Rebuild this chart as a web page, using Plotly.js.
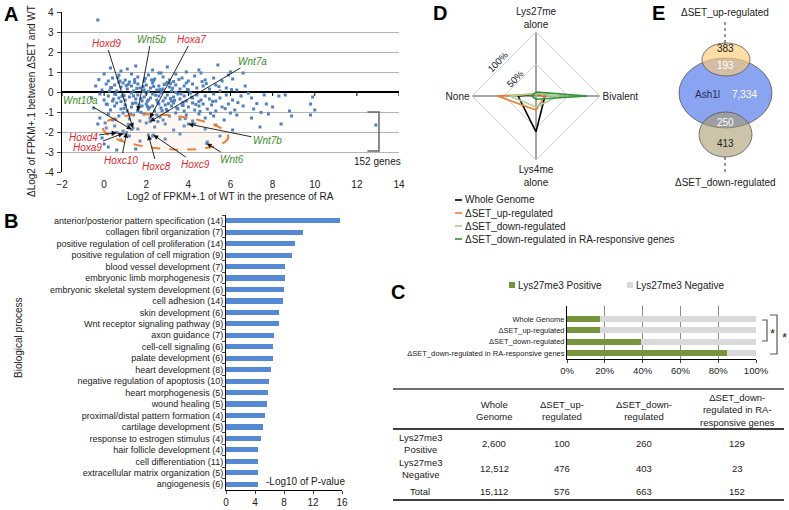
<!DOCTYPE html>
<html>
<head>
<meta charset="utf-8">
<script src="https://cdn.plot.ly/plotly-3.0.1.min.js"></script>
<style>html,body{margin:0;padding:0;background:#fff}#fig{width:789px;height:510px}</style>
</head>
<body>
<div id="fig"></div>
<script>
// ---- A: expression change scatter (one line per band of the cloud)
var scatX = [].concat(
  [0.3,0.8,1.5,2.3,3.0,3.9,5.4,6.0,2.7,1.1,4.5,6.6],
  [0.0,0.4,0.7,1.0,1.3,1.6,1.9,2.1,2.4,2.8,3.1,3.4,3.7,4.0,4.3,4.8,5.2,5.6,6.1,0.2,1.2,2.6,3.3,4.6,5.9],
  [-0.4,-0.1,0.1,0.3,0.5,0.6,0.8,0.9,1.1,1.3,1.4,1.6,1.7,1.9,2.0,2.2,2.3,2.5,2.6,2.8,2.9,3.1,3.2,3.4,3.6,3.8,4.0,4.2,4.4,4.7,5.0,5.3,5.8,6.3,6.7,0.7,2.1,3.0,3.9,5.5],
  [-0.6,-0.2,0.0,0.2,0.4,0.5,0.7,0.9,1.0,1.2,1.3,1.5,1.6,1.8,1.9,2.0,2.2,2.3,2.5,2.6,2.7,2.9,3.0,3.2,3.3,3.5,3.6,3.8,3.9,4.1,4.2,4.4,4.6,4.8,5.0,5.2,5.5,5.8,6.1,6.5,7.0,7.6,8.3,8.6,9.9,0.8,1.4,2.1,2.8,3.4,4.5,5.3],
  [-0.5,0.1,0.3,0.5,0.6,0.8,1.0,1.1,1.3,1.5,1.6,1.8,2.0,2.1,2.3,2.4,2.6,2.7,2.9,3.0,3.2,3.3,3.5,3.7,3.8,4.0,4.2,4.3,4.5,4.7,4.9,5.1,5.3,5.6,5.9,6.2,6.6,7.1,7.7,8.0,8.8,9.8,10.0],
  [-0.2,0.2,0.4,0.7,0.9,1.2,1.4,1.7,1.9,2.2,2.5,2.8,3.1,3.4,3.6,3.9,4.2,4.5,4.8,5.2,5.7,6.3,7.0,7.8,8.9,9.8,6.0],
  [-0.3,0.1,0.5,0.9,1.3,1.6,2.0,2.4,2.9,3.3,3.8,4.3,4.8,5.3,6.1,7.4,8.4,12.9],
  [-0.1,0.4,0.8,1.2,1.7,2.3,2.9,3.6,4.9,5.5,0.0],
  [0.2,1.5,0.6,-0.3],
  [1.45,2.05,2.65,3.15,1.75,2.35,0.95,3.75],
  [0.15,0.35,0.55,0.75,0.95,1.15,1.35,1.55,1.75,1.95,2.15,2.35,2.55,2.75,2.95,3.15,3.35,3.55,3.75,3.95],
  [0.25,0.45,0.65,0.85,1.05,1.25,1.45,1.65,1.85,2.05,2.25,2.45,2.65,2.85,3.05,3.25,3.45,3.65,4.15,4.65],
  [4.35,4.85,5.15,5.45,5.75,6.05,6.35,6.85,7.25,7.45,0.05,-0.25,0.55,1.15,2.55,3.85,4.55,5.05,1.85,2.75]
);
var scatY = [].concat(
  [1.2,1.05,1.3,1.1,1.25,1.0,1.35,1.0,0.95,1.15,1.1,0.95],
  [0.9,0.7,0.85,0.6,0.9,0.75,0.55,0.85,0.65,0.75,0.6,0.9,0.7,0.55,0.8,0.6,0.7,0.55,0.65,0.55,0.5,0.95,0.52,0.95,0.85],
  [0.3,0.1,0.4,0.2,0.35,0.05,0.25,0.45,0.15,0.3,0.05,0.4,0.2,0.1,0.35,0.2,0.45,0.1,0.3,0.15,0.4,0.25,0.05,0.35,0.15,0.3,0.1,0.4,0.2,0.3,0.15,0.35,0.2,0.1,0.3,0.48,0.02,0.48,0.45,0.05],
  [-0.3,-0.1,-0.4,-0.2,-0.45,-0.1,-0.3,-0.15,-0.4,-0.25,-0.05,-0.35,-0.15,-0.45,-0.25,-0.05,-0.3,-0.1,-0.4,-0.2,-0.05,-0.3,-0.15,-0.45,-0.25,-0.1,-0.35,-0.2,-0.45,-0.05,-0.3,-0.15,-0.4,-0.2,-0.35,-0.1,-0.3,-0.15,-0.4,-0.2,-0.3,-0.15,-0.2,-0.15,-0.25,-0.48,-0.2,-0.4,-0.45,-0.02,-0.48,-0.45],
  [-0.8,-0.6,-0.9,-0.7,-0.55,-0.85,-0.65,-0.95,-0.75,-0.55,-0.9,-0.7,-0.6,-0.85,-0.7,-0.95,-0.6,-0.8,-0.65,-0.95,-0.7,-0.55,-0.85,-0.65,-0.95,-0.75,-0.55,-0.9,-0.7,-0.6,-0.85,-0.65,-0.95,-0.75,-0.6,-0.9,-0.7,-0.85,-0.6,-0.75,-0.95,-0.6,-0.9],
  [-1.3,-1.1,-1.4,-1.2,-1.05,-1.35,-1.15,-1.45,-1.1,-1.3,-1.15,-1.4,-1.2,-1.05,-1.35,-1.15,-1.45,-1.1,-1.3,-1.2,-1.4,-1.15,-1.3,-1.1,-1.2,-1.15,-1.05],
  [-1.6,-1.8,-1.7,-1.95,-1.65,-1.85,-1.55,-1.75,-1.6,-1.9,-1.7,-1.6,-1.85,-1.65,-1.9,-1.75,-1.6,-1.65],
  [-2.3,-2.1,-2.4,-2.2,-2.45,-2.2,-2.35,-2.1,-2.5,-2.2,-2.6],
  [-2.75,-2.85,-2.9,3.6],
  [0.62,-0.72,0.12,-0.33,-1.02,0.58,-0.18,-0.52],
  [-0.62,0.22,-0.12,0.55,-0.82,0.38,-0.57,0.18,-0.33,0.68,-0.77,0.28,-0.52,0.08,-0.87,0.43,-0.42,0.63,-0.68,0.13],
  [0.05,-0.35,0.72,-0.22,0.32,-1.12,0.48,-0.64,0.02,-0.46,0.6,-0.16,-1.25,0.37,-0.58,0.19,-0.79,-0.09,-0.26,0.52],
  [-0.62,0.42,-0.47,0.27,-0.83,0.12,-0.53,-0.06,-0.58,-1.02,-1.55,0.62,-1.38,-1.62,-1.48,-1.33,-0.97,-1.06,0.27,-0.93]
);
var yTicksA = [-4, -3, -2, -1, 0, 1, 2, 3, 4];
var geneNames = ["Hoxd9", "Wnt5b", "Hoxa7", "Wnt7a", "Wnt10a", "Hoxd4", "Hoxa9", "Hoxc10", "Hoxc8", "Hoxc9", "Wnt7b", "Wnt6"];
var geneX = [1.37, 1.6, 2.18, 2.18, 1.31, 0.6, 0.91, 1.07, 2.1, 2.34, 4.0, 4.87];
var geneY = [-1.8, -0.95, -1.3, -1.48, -1.87, -2.03, -2.07, -2.03, -2.15, -2.15, -1.6, -2.57];
var bracketCount = 152;

// ---- B: GO terms
var goTerms = [
  "anterior/posterior pattern specification (14)", "collagen fibril organization (7)",
  "positive regulation of cell proliferation (14)", "positive regulation of cell migration (9)",
  "blood vessel development (7)", "embryonic limb morphogenesis (7)",
  "embryonic skeletal system development (6)", "cell adhesion (14)", "skin development (6)",
  "Wnt receptor signaling pathway (9)", "axon guidance (7)", "cell-cell signaling (6)",
  "palate development (6)", "heart development (8)", "negative regulation of apoptosis (10)",
  "heart morphogenesis (5)", "wound healing (5)", "proximal/distal pattern formation (4)",
  "cartilage development (5)", "response to estrogen stimulus (4)", "hair follicle development (4)",
  "cell differentiation (11)", "extracellular matrix organization (5)", "angiogenesis (6)"
];
var goScore = [15.7, 10.6, 9.5, 9.1, 8.2, 8.1, 8.0, 7.8, 7.3, 7.3, 6.6, 6.55, 6.5, 6.25, 5.9, 5.85, 5.7, 5.4, 5.1, 4.8, 4.4, 4.4, 4.35, 4.35];

// ---- C: Lys27me3 table
var groupNames = ["Whole Genome", "\u0394SET_up-regulated", "\u0394SET_down-regulated", "\u0394SET_down-regulated in RA-responsive genes"];
var k27Pos = [2600, 100, 260, 129];
var k27Neg = [12512, 476, 403, 23];
var k27Total = [15112, 576, 663, 152];
var tableHeads = ["Whole<br>Genome", "\u0394SET_up-<br>regulated", "\u0394SET_down-<br>regulated", "\u0394SET_down-<br>regulated in RA-<br>responsive genes"];
var tableRows = ["Lys27me3<br>Positive", "Lys27me3<br>Negative", "Total"];

// ---- D: radar
var radarAxes = ["Lys27me<br>alone", "Bivalent", "Lys4me<br>alone", "None"];
var radarNames = ["Whole Genome", "\u0394SET_up-regulated", "\u0394SET_down-regulated", "\u0394SET_down-regulated in RA-responsive genes"];
var radarWhole = [3, 14, 56, 28];
var radarUp = [3, 14, 22, 60];
var radarDown = [4, 35, 17, 41];
var radarDownRA = [6, 80, 5, 7];

// ---- E: venn counts
var vennUpOnly = 383, vennUpShared = 193, vennAsh1l = 7334, vennDownShared = 250, vennDownOnly = 413;

var FONT = '"Liberation Sans", Arial, sans-serif';
var W = 789, H = 510;
var px = function (v) { return v / W; };
var py = function (v) { return 1 - v / H; };
var fmt = function (n) { return n.toLocaleString("en-US"); };
var RED = "#E3262D", GREEN = "#3C8C2A", DOTS = "#4F81BD";
var radarColors = ["#000000", "#EE7D31", "#A9D18E", "#2E972E"];

var data = [];
data.push({ type: "scatter", mode: "markers", x: scatX, y: scatY, xaxis: "x", yaxis: "y",
  marker: { symbol: "square", size: 3, color: DOTS }, hoverinfo: "skip" });
data.push({ type: "scatter", mode: "markers", x: geneX, y: geneY, xaxis: "x", yaxis: "y",
  marker: { symbol: "square", size: 3, color: DOTS }, hoverinfo: "skip" });

data.push({ type: "bar", orientation: "h", x: goScore, y: goTerms, xaxis: "x2", yaxis: "y2",
  width: 0.45, marker: { color: "#5689D3" } });

var pctPos = k27Pos.map(function (v, i) { return v / k27Total[i] * 100; });
var pctNeg = k27Neg.map(function (v, i) { return v / k27Total[i] * 100; });
data.push({ type: "bar", orientation: "h", x: pctPos, y: groupNames, xaxis: "x3", yaxis: "y3",
  width: 0.55, marker: { color: "#77933C" } });
data.push({ type: "bar", orientation: "h", x: pctNeg, y: groupNames, xaxis: "x3", yaxis: "y3",
  width: 0.55, marker: { color: "#D9D9D9" } });

[radarWhole, radarUp, radarDown, radarDownRA].forEach(function (r, i) {
  data.push({ type: "scatterpolar", mode: "lines", subplot: "polar",
    r: r.concat([r[0]]), theta: radarAxes.concat([radarAxes[0]]),
    line: { color: radarColors[i], width: 1.6 }, name: radarNames[i] });
});

// gene label positions (data units of panel A)
var labelPos = {
  Hoxd9: [0.09, 2.45], Wnt5b: [2.23, 2.65], Hoxa7: [4.17, 2.65], Wnt7a: [7.03, 1.55],
  Wnt10a: [-1.1, -0.4], Hoxd4: [-1.0, -2.25], Hoxa9: [-0.81, -2.75], Hoxc10: [0.81, -3.4],
  Hoxc8: [2.5, -3.7], Hoxc9: [4.36, -3.6], Wnt7b: [7.75, -2.4], Wnt6: [6.07, -3.35]
};

var ann = [];
function txt(x, y, text, size, more) {
  var a = { xref: "paper", yref: "paper", x: px(x), y: py(y), text: text, showarrow: false,
    xanchor: "center", yanchor: "middle", font: { size: size || 10, color: "#222" } };
  if (more) for (var k in more) a[k] = more[k];
  ann.push(a);
}

// y tick labels of panel A, tied to the y scale
yTicksA.forEach(function (v) {
  ann.push({ xref: "paper", yref: "y", x: px(56), y: v, text: String(v), showarrow: false,
    xanchor: "right", yanchor: "middle", font: { size: 10, color: "#222" } });
});

geneNames.forEach(function (g, i) {
  ann.push({ xref: "x", yref: "y", axref: "x", ayref: "y", x: geneX[i], y: geneY[i],
    ax: labelPos[g][0], ay: labelPos[g][1], text: "<i>" + g + "</i>", showarrow: true,
    xanchor: "center", yanchor: "middle",
    arrowhead: 2, arrowsize: 1.1, arrowwidth: 0.9, arrowcolor: "#111",
    font: { size: 10, color: g.indexOf("Hox") === 0 ? RED : GREEN } });
});
ann.push({ xref: "x", yref: "y", x: 13.0, y: -3.45, text: bracketCount + " genes", showarrow: false,
  xanchor: "center", yanchor: "middle", font: { size: 10 } });
txt(230, 197, "Log2 of FPKM+.1 of WT in the presence of RA", 10);
txt(32, 101, "\u0394Log2 of FPKM+.1 between \u0394SET and WT", 10, { textangle: -90 });

txt(18, 338, "Biological process", 10, { textangle: -90 });
txt(305, 481, "-Log10 of P-value", 10);

// panel letters
[["A", 11, 14], ["B", 11, 221], ["C", 398, 292], ["D", 440, 13], ["E", 658, 13]].forEach(function (l) {
  txt(l[1], l[2], "<b>" + l[0] + "</b>", 20, { font: { size: 20, color: "#000" } });
});

// A: x ticks along the zero line
var shapes = [];
for (var t = -2; t <= 14; t += 2) {
  shapes.push({ type: "line", xref: "x", yref: "y", x0: t, x1: t, y0: 0, y1: -0.2, line: { color: "#000", width: 1 } });
}

// C legend + stars
shapes.push({ type: "rect", xref: "paper", yref: "paper", x0: px(509), x1: px(515), y0: py(288), y1: py(282), fillcolor: "#77933C", line: { width: 0 } });
shapes.push({ type: "rect", xref: "paper", yref: "paper", x0: px(627), x1: px(633), y0: py(288), y1: py(282), fillcolor: "#D9D9D9", line: { width: 0 } });
txt(516, 285, "Lys27me3 Positive", 10, { xanchor: "left" });
txt(634, 285, "Lys27me3 Negative", 10, { xanchor: "left" });
shapes.push({ type: "path", xref: "paper", yref: "paper", line: { color: "#595959", width: 1.2 },
  path: "M" + px(762) + "," + py(320) + "L" + px(767) + "," + py(320) + "L" + px(767) + "," + py(341) + "L" + px(762) + "," + py(341) });
shapes.push({ type: "path", xref: "paper", yref: "paper", line: { color: "#595959", width: 1.2 },
  path: "M" + px(770) + "," + py(315) + "L" + px(777) + "," + py(315) + "L" + px(777) + "," + py(354) + "L" + px(770) + "," + py(354) });
txt(772, 333, "*", 13);
txt(784, 337, "*", 13);

// C table
var colX = [494, 562, 644, 737], rowY = [443, 468, 491];
[[389, 1.5], [429, 2], [500, 2]].forEach(function (l) {
  shapes.push({ type: "line", xref: "paper", yref: "paper", x0: px(393), x1: px(784), y0: py(l[0]), y1: py(l[0]), line: { color: "#404040", width: l[1] } });
});
tableHeads.forEach(function (h, j) { txt(colX[j], 410, h, 9.5); });
var tableVals = [k27Pos, k27Neg, k27Total];
tableRows.forEach(function (r, i) {
  txt(420, rowY[i], r, 9.5);
  tableVals[i].forEach(function (v, j) { txt(colX[j], rowY[i], fmt(v), 9.5); });
});

// D legend and radial labels
radarNames.forEach(function (n, i) {
  var yy = 200 + i * 13;
  shapes.push({ type: "line", xref: "paper", yref: "paper", x0: px(455), x1: px(462), y0: py(yy), y1: py(yy), line: { color: radarColors[i], width: 1.6 } });
  txt(463, yy, n, 10, { xanchor: "left" });
});
txt(498, 61, "100%", 9.5, { textangle: -45 });
txt(515, 78, "50%", 9.5, { textangle: -45 });

// E venn
shapes.push({ type: "circle", xref: "paper", yref: "paper", x0: px(679), x1: px(772), y0: py(128), y1: py(58), fillcolor: "#8AA4F2", line: { color: "#555", width: 0.8 } });
shapes.push({ type: "circle", xref: "paper", yref: "paper", x0: px(702), x1: px(750), y0: py(76), y1: py(43), fillcolor: "rgba(252,205,120,0.65)", line: { color: "#555", width: 0.8 } });
shapes.push({ type: "circle", xref: "paper", yref: "paper", x0: px(699), x1: px(752), y0: py(157), y1: py(112), fillcolor: "rgba(170,155,110,0.6)", line: { color: "#555", width: 0.8 } });
shapes.push({ type: "line", xref: "paper", yref: "paper", x0: px(725), x1: px(725), y0: py(22), y1: py(43), line: { color: "#333", width: 1, dash: "dot" } });
shapes.push({ type: "line", xref: "paper", yref: "paper", x0: px(725), x1: px(725), y0: py(157), y1: py(172), line: { color: "#333", width: 1, dash: "dot" } });
[[fmt(vennUpOnly), 725, 49, "#222"], [fmt(vennUpShared), 725, 66, "#fff"], ["Ash1l", 707, 94, "#1F2D50"],
 [fmt(vennAsh1l), 744, 94, "#fff"], [fmt(vennDownShared), 725, 122, "#fff"], [fmt(vennDownOnly), 725, 143, "#222"],
 ["\u0394SET_up-regulated", 725, 12, "#222"], ["\u0394SET_down-regulated", 725, 182, "#222"]].forEach(function (t) {
  txt(t[1], t[2], t[0], 10, { font: { size: 10, color: t[3] } });
});

// A: highlighted ellipse and bracket
function ellipsePath(cx, cy, a, b, deg) {
  var r = deg * Math.PI / 180, d = "";
  for (var k = 0; k <= 72; k++) {
    var s = k / 72 * 2 * Math.PI;
    var ex = cx + a * Math.cos(s) * Math.cos(r) - b * Math.sin(s) * Math.sin(r);
    var ey = cy + a * Math.cos(s) * Math.sin(r) + b * Math.sin(s) * Math.cos(r);
    d += (k ? "L" : "M") + px(ex) + "," + py(ey);
  }
  return d + "Z";
}
shapes.push({ type: "path", xref: "paper", yref: "paper", path: ellipsePath(165.5, 132, 63, 17, 4.6),
  fillcolor: "rgba(240,210,190,0.18)", line: { color: "#ED7D31", width: 2, dash: "dash" } });
shapes.push({ type: "path", xref: "x", yref: "y", path: "M12.5,-1.0L13.05,-1.0L13.05,-2.95L12.5,-2.95", line: { color: "#666", width: 1.5 } });

var layout = {
  width: W, height: H, margin: { l: 0, r: 0, t: 0, b: 0 },
  paper_bgcolor: "#fff", plot_bgcolor: "rgba(0,0,0,0)",
  font: { family: FONT, size: 10, color: "#222" },
  showlegend: false, barmode: "stack",
  xaxis: { domain: [px(62), px(399)], range: [-2, 14], dtick: 2, showgrid: false, zeroline: false, showline: false, ticks: "",
    ticklabelstandoff: 5, ticklabeloverflow: "allow", anchor: "y" },
  yaxis: { domain: [py(172), py(12)], range: [-4, 4], tickmode: "array", tickvals: yTicksA, showticklabels: false,
    gridcolor: "#B4B4B4", zeroline: true, zerolinecolor: "#000", zerolinewidth: 1.5,
    showline: true, linecolor: "#000", ticks: "outside", ticklen: 4, anchor: "x" },
  xaxis2: { domain: [px(226), px(342)], range: [0, 16], dtick: 4, showgrid: false, zeroline: false, showline: true, linecolor: "#000",
    ticks: "outside", ticklen: 3, ticklabeloverflow: "allow", anchor: "y2" },
  yaxis2: { domain: [py(490), py(215)], type: "category", range: [23.5, -0.5], showline: true, linecolor: "#000", ticks: "outside",
    tickson: "boundaries", ticklen: 3, tickfont: { size: 9 }, anchor: "x2" },
  xaxis3: { domain: [px(567), px(756)], range: [0, 100], dtick: 20, ticksuffix: "%", showgrid: true, gridcolor: "#8C8C8C", zeroline: false,
    showline: true, linecolor: "#000", ticks: "outside", ticklen: 3, tickfont: { size: 9.5 }, ticklabeloverflow: "allow", anchor: "y3" },
  yaxis3: { domain: [py(359), py(306)], type: "category", range: [3.53, -1.15], showline: true, linecolor: "#000", ticks: "",
    tickfont: { size: 7.5 }, anchor: "x3" },
  polar: {
    domain: { x: [px(472), px(600)], y: [py(160), py(32)] }, bgcolor: "rgba(0,0,0,0)", gridshape: "linear",
    radialaxis: { range: [0, 100], tickvals: [50, 100], showticklabels: false, showline: false, ticks: "", gridcolor: "#D0D0D0" },
    angularaxis: { direction: "clockwise", rotation: 90, gridcolor: "#A6A6A6", gridwidth: 2, showline: true, linecolor: "#D0D0D0",
      ticks: "", tickfont: { size: 10 } }
  },
  annotations: ann,
  shapes: shapes
};

Plotly.newPlot("fig", data, layout, { staticPlot: true });
</script>
</body>
</html>
